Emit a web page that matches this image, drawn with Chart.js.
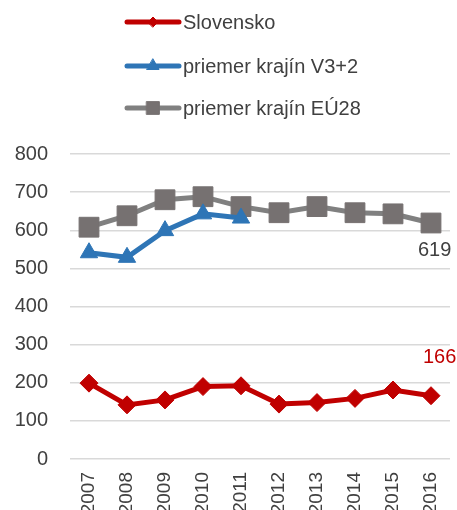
<!DOCTYPE html>
<html>
<head>
<meta charset="utf-8">
<script src="https://cdn.jsdelivr.net/npm/chart.js@4/dist/chart.umd.min.js"></script>
<style>
  html, body { margin: 0; padding: 0; background: #fff; }
  #wrap { width: 457px; height: 510px; position: relative; }
</style>
</head>
<body>
<div id="wrap"><canvas id="chart"></canvas></div>
<script>
const years = ["2007", "2008", "2009", "2010", "2011", "2012", "2013", "2014", "2015", "2016"];
const slovensko = [199, 142, 155, 190, 192, 144, 148, 159, 181, 166];
const v32 = [541, 529, 599, 643, 632, null, null, null, null, null];
const eu28 = [608, 638, 680, 688, 662, 646, 662, 646, 643, 619];
const yTicks = [0, 100, 200, 300, 400, 500, 600, 700, 800];
const seriesNames = ["Slovensko", "priemer krajín V3+2", "priemer krajín EÚ28"];

const FONT = "'Liberation Sans Narrow', 'Arial Narrow', 'Liberation Sans', sans-serif";
const TEXT = "#404040";

// legend stacked in a column, like the original
const legendPlugin = {
  id: "columnLegend",
  afterDraw(chart) {
    const ctx = chart.ctx;
    const rows = [22, 66, 108];
    chart.data.datasets.forEach((ds, i) => {
      const y = rows[i];
      ctx.save();
      ctx.strokeStyle = ds.borderColor;
      ctx.lineWidth = 5;
      ctx.lineCap = "round";
      ctx.beginPath();
      ctx.moveTo(127, y);
      ctx.lineTo(179, y);
      ctx.stroke();
      ctx.fillStyle = ds.pointBackgroundColor;
      ctx.strokeStyle = ds.pointBorderColor;
      ctx.lineWidth = 1;
      Chart.helpers.drawPoint(ctx, {
        pointStyle: ds.pointStyle,
        radius: ds.legendRadius,
        borderWidth: 1,
        rotation: 0
      }, 153, y);
      ctx.fillStyle = TEXT;
      ctx.font = "20px " + FONT;
      ctx.textBaseline = "middle";
      ctx.textAlign = "left";
      ctx.fillText(ds.label, 183, y + 1);
      ctx.restore();
    });
  }
};

// value labels at the last point
const endLabels = {
  id: "endLabels",
  afterDatasetsDraw(chart) {
    const ctx = chart.ctx;
    ctx.save();
    ctx.font = "20px " + FONT;
    ctx.textBaseline = "middle";
    ctx.textAlign = "left";
    const last = years.length - 1;
    const pSk = chart.getDatasetMeta(0).data[last];
    ctx.fillStyle = "#C00000";
    ctx.fillText(String(slovensko[last]), pSk.x - 8, pSk.y - 38);
    const pEu = chart.getDatasetMeta(2).data[last];
    ctx.fillStyle = TEXT;
    ctx.fillText(String(eu28[last]), pEu.x - 13, pEu.y + 27);
    ctx.restore();
  }
};

new Chart(document.getElementById("chart"), {
  type: "line",
  data: {
    labels: years,
    datasets: [
      {
        label: seriesNames[0],
        data: slovensko,
        borderColor: "#C00000",
        borderWidth: 5,
        pointStyle: "rectRot",
        pointRadius: 9,
        pointBackgroundColor: "#C00000",
        pointBorderColor: "#C00000",
        pointBorderWidth: 1,
        legendRadius: 5,
        tension: 0
      },
      {
        label: seriesNames[1],
        data: v32,
        borderColor: "#2E75B6",
        borderWidth: 5,
        pointStyle: "triangle",
        pointRadius: 10,
        pointBackgroundColor: "#2E75B6",
        pointBorderColor: "#2E75B6",
        pointBorderWidth: 1,
        legendRadius: 7,
        tension: 0
      },
      {
        label: seriesNames[2],
        data: eu28,
        borderColor: "#808080",
        borderWidth: 5,
        pointStyle: "rect",
        pointRadius: 14,
        pointBackgroundColor: "#767171",
        pointBorderColor: "#767171",
        pointBorderWidth: 1,
        legendRadius: 9,
        tension: 0
      }
    ]
  },
  options: {
    responsive: true,
    maintainAspectRatio: false,
    animation: false,
    layout: {
      autoPadding: false,   // big markers would otherwise push the plot in
      padding: { top: 154, right: 7, left: 0, bottom: 0 }
    },
    plugins: {
      legend: { display: false },
      tooltip: { enabled: false }
    },
    scales: {
      x: {
        offset: true,
        grid: { display: false, drawTicks: false },
        border: { display: false },
        ticks: {
          color: TEXT,
          font: { family: FONT, size: 19 },
          minRotation: 90,
          maxRotation: 90,
          padding: 13
        },
        afterFit(scale) {
          scale.height = 51;
          scale.paddingLeft = 0;
          scale.paddingRight = 0;
        }
      },
      y: {
        min: 0,
        max: 800,
        afterBuildTicks(scale) { scale.ticks = yTicks.map(v => ({ value: v })); },
        grid: { color: "#D9D9D9", lineWidth: 1.5, drawTicks: false },
        border: { display: false },
        ticks: {
          color: TEXT,
          font: { family: FONT, size: 20 },
          padding: 22
        },
        afterFit(scale) {
          scale.width = 70;
          scale.paddingTop = 0;
          scale.paddingBottom = 0;
        }
      }
    }
  },
  plugins: [legendPlugin, endLabels]
});
</script>
</body>
</html>
